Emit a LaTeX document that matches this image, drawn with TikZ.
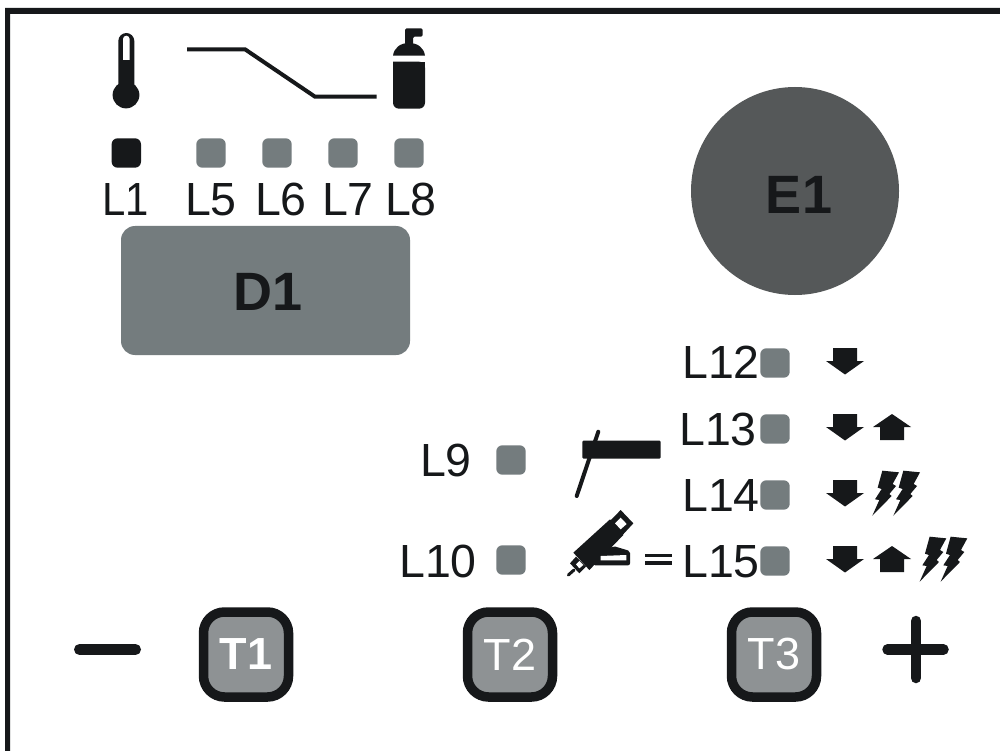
\documentclass[tikz,border=0pt]{standalone}
\usepackage{fontspec}
\setmainfont{Liberation Sans}
\definecolor{ink}{HTML}{16181A}
\definecolor{led}{HTML}{747C7E}
\definecolor{btn}{HTML}{8E9294}
\definecolor{knob}{HTML}{555859}
\tikzset{
  lab/.style={font=\fontsize{46.5}{46.5}\selectfont,text=ink,inner sep=0pt,anchor=base},
  labr/.style={lab,anchor=base east},
  ledbox/.style={fill=led,draw=none,rounded corners=6pt,minimum size=29.4pt,inner sep=0pt},
  button/.style={draw=ink,line width=9.5pt,fill=btn,rounded corners=21pt,minimum width=85pt,minimum height=85pt,inner sep=0pt,text=white,font=\fontsize{45}{45}\selectfont},
  ln/.style={draw=ink,line width=4pt},
  big/.style={text=ink,font=\fontsize{54}{54}\selectfont\bfseries,inner sep=0pt},
  zoomed/.style={x=0.33333pt,y=-0.33333pt},
}
\newcommand{\darrow}[2]{\fill[ink,shift={(#1,#2)}] (-12,-15)--(12,-15)--(12,-2)--(19,-2)--(0,11.5)--(-19,-2)--(-12,-2)--cycle;}
\newcommand{\uarrow}[2]{\fill[ink,shift={(#1,#2)}] (-12,11)--(12,11)--(12,-2)--(19,-2)--(0,-15)--(-19,-2)--(-12,-2)--cycle;}
\newcommand{\bolt}[2]{\begin{scope}[shift={(750+#1,340+#2)},zoomed]\fill[ink] (397,392)--(447,397)--(428,432)--(438,438)--(418,462)--(425,468)--(367,527)--(388,480)--(375,478)--(395,447)--(383,443)--cycle;\end{scope}}
\begin{document}
\begin{tikzpicture}[x=1pt,y=-1pt]
\useasboundingbox (0,0) rectangle (1000,751);
\fill[white] (0,0) rectangle (1000,751);
% frame
\fill[ink] (5,751)--(5,8)--(1000,8)--(1000,14)--(10,14)--(10,751)--cycle;
% thermometer
\fill[ink] (118.3,41) arc[start angle=180,end angle=0,radius=8pt] -- (134.3,90) -- (118.3,90) -- cycle;
\fill[ink] (126,95) circle[radius=13.4pt];
\fill[white] (123,60) -- (123,39) arc[start angle=180,end angle=0,radius=3.3pt] -- (129.6,60)--cycle;
% ramp
\coordinate (r1) at (187,49.3);\coordinate (r2) at (245,49.3);\coordinate (r3) at (315,96.7);\coordinate (r4) at (376.5,96.7);
\draw[ln] (r1)--(r2)--(r3)--(r4);
% gas bottle
\fill[ink,rounded corners=1.5pt] (405,28.3)--(422.7,28.3)--(422.7,36.7)--(413,36.7)--(413,45)--(405,45)--cycle;
\fill[ink] (393,55.7) .. controls (394,48) and (400,43) .. (409,43) .. controls (418,43) and (424,48) .. (425,55.7) -- cycle;
\fill[ink,rounded corners=6pt] (393,61.7) -- (393,108.7) -- (425,108.7) -- (425,61.7) [sharp corners] -- cycle;
\fill[ink] (393,61.7) rectangle (425,75);
% top LEDs
\node[ledbox,fill=ink] (L1) at (126.3,153) {};
\node[ledbox] (L5) at (211,153) {};
\node[ledbox] (L6) at (277,153) {};
\node[ledbox] (L7) at (343,153) {};
\node[ledbox] (L8) at (409,153) {};
\node[lab,xscale=.9] (tL1) at (125.5,215) {L1};
\node[lab] (tL5) at (211,215) {L5};
\node[lab] (tL6) at (281,215) {L6};
\node[lab] (tL7) at (348,215) {L7};
\node[lab] (tL8) at (411,215) {L8};
% D1
\fill[led,rounded corners=14pt] (121,226) rectangle (410,355);
\node[big] (D1) at (268,292) {D1};
% E1
\fill[knob] (795,191) circle[radius=104pt];
\node[big] (E1) at (799,195) {E1};
% right LEDs
\node[ledbox] (L12) at (775,363) {};
\node[ledbox] (L13) at (775,429) {};
\node[ledbox] (L14) at (775,495) {};
\node[ledbox] (L15) at (775,561) {};
\node[labr] (tL12) at (760,378) {L12};
\node[labr] (tL13) at (757,445) {L13};
\node[labr] (tL14) at (760,511) {L14};
\node[labr] (tL15) at (760,577) {L15};
\node[ledbox] (L9) at (511,460) {};
\node[ledbox] (L10) at (511,560) {};
\node[labr] (tL9) at (472,476) {L9};
\node[labr] (tL10) at (477,577) {L10};
% arrows
\darrow{845}{363}
\darrow{845}{429}\uarrow{892}{429}
\darrow{845}{495}
\darrow{845}{561}\uarrow{892}{561}
\bolt{0}{0}\bolt{21}{0}
\bolt{47.3}{66}\bolt{68.3}{66}
% electrode
\fill[ink,rounded corners=1pt] (582.3,440.7) rectangle (660.5,458.5);
\coordinate (e1) at (598.3,431.7);\coordinate (e2) at (576.7,496);
\draw[ink,line width=4pt,line cap=round] (e1)--(e2);
% torch
\begin{scope}[shift={(550,420)},zoomed]
\draw[ink,line width=3pt,line cap=round] (72,450)--(55,465);
\fill[ink] (60,430)--(78,410)--(108,440)--(88,460)--cycle;
\fill[ink] (180,298)--(220,345)--(118,450)--(70,398)--cycle;
\fill[ink] (212,270)--(250,310)--(215,348)--(178,305)--cycle;
\fill[white] (212,293)--(230,312)--(212,328)--(195,310)--cycle;
\fill[white] (88,423)--(100,435)--(88,445)--(78,433)--cycle;
\fill[ink,rounded corners=2pt] (130,436)--(130,415)--(190,378)--(240,393)--(240,436)--cycle;
\fill[white] (152,408)--(229,405)--(229,421)--(152,421)--cycle;
\end{scope}
\draw[ink,line width=3.5pt] (645,555.5)--(671.7,555.5) (645,563)--(671.7,563);
% buttons
\node[button] (T1) at (246,654.5) {\bfseries T1};
\node[button] (T2) at (510,654.5) {T2};
\node[button] (T3) at (774,654.5) {T3};
\draw[ink,line width=11pt,line cap=round] (79.5,649.5)--(135.5,649.5);
\draw[ink,line width=10.5pt,line cap=round] (887.5,649.5)--(943.5,649.5) (916,621)--(916,678);
\end{tikzpicture}
\end{document}
